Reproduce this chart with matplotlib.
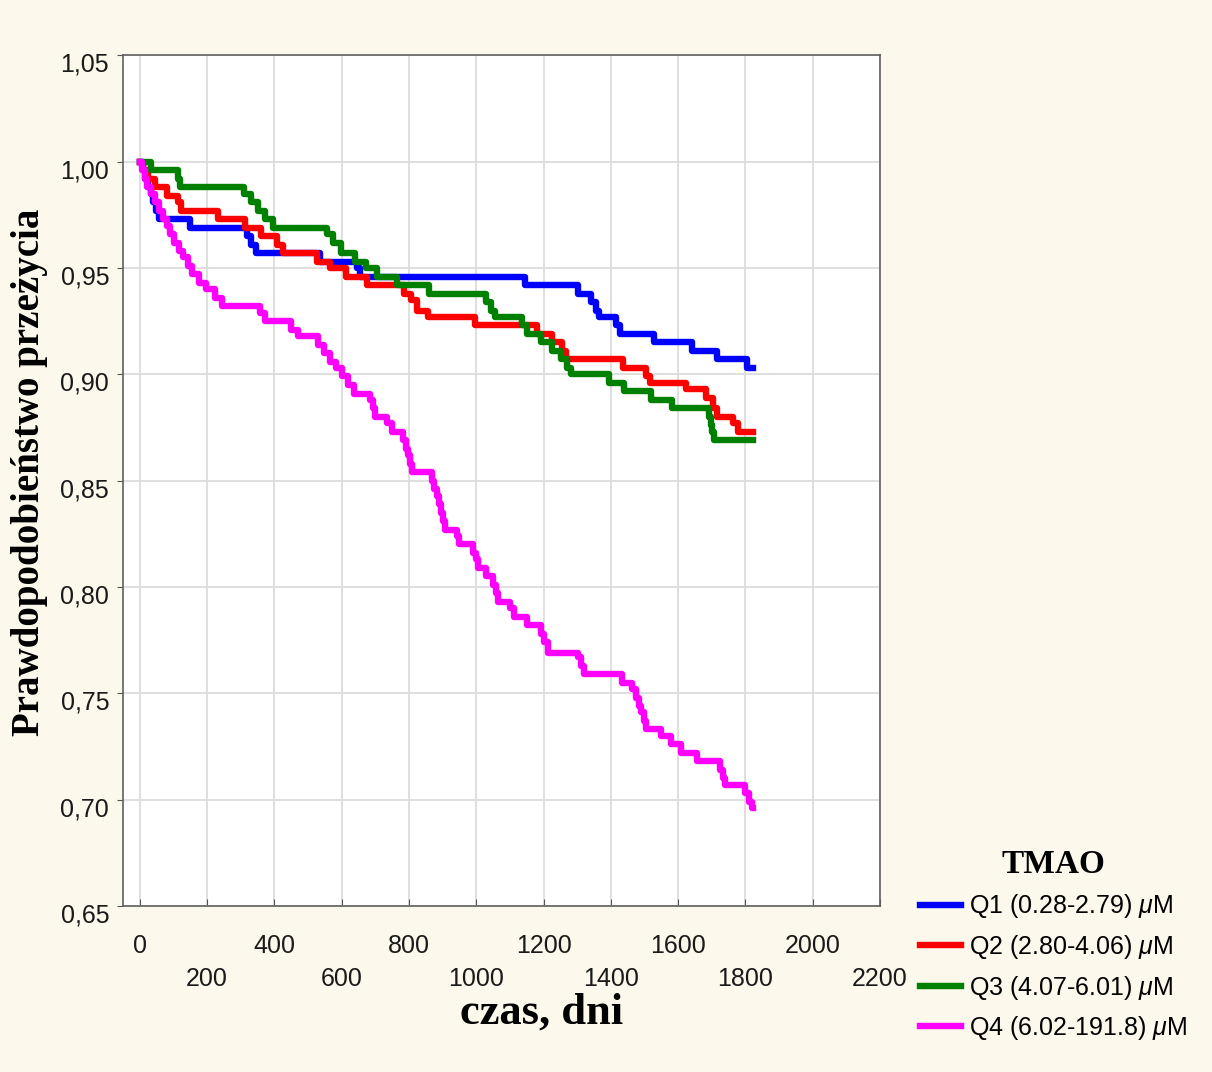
import numpy as np
import matplotlib.pyplot as plt
import matplotlib.transforms as mtransforms
from matplotlib.ticker import FuncFormatter

plt.rcParams['mathtext.fontset'] = 'custom'
plt.rcParams['mathtext.it'] = 'Liberation Sans:italic'
plt.rcParams['mathtext.rm'] = 'Liberation Sans'

# Kaplan-Meier steps (day, survival after event)
q1_days = [0, 8, 16, 24, 32, 40, 48, 56, 148, 318, 330, 344, 536, 646, 655,
           1146, 1302, 1340, 1355, 1366, 1414, 1428, 1528, 1641, 1715, 1805, 1822]
q1_surv = [1.0, 0.996, 0.992, 0.988, 0.985, 0.981, 0.977, 0.973, 0.969, 0.965, 0.961, 0.957, 0.953, 0.950, 0.946,
           0.942, 0.938, 0.934, 0.930, 0.927, 0.923, 0.919, 0.915, 0.911, 0.907, 0.903, 0.903]

q2_days = [0, 10, 25, 45, 80, 112, 122, 232, 312, 360, 408, 425, 528, 565, 613, 676, 785, 806, 825, 855,
           995, 1180, 1225, 1255, 1266, 1435, 1505, 1515, 1624, 1683, 1705, 1715, 1762, 1777, 1822]
q2_surv = [1.0, 0.996, 0.992, 0.988, 0.984, 0.981, 0.977, 0.973, 0.969, 0.965, 0.961, 0.957, 0.953, 0.950, 0.946,
           0.942, 0.938, 0.935, 0.930, 0.927, 0.923, 0.919, 0.915, 0.911, 0.907, 0.903, 0.899, 0.896, 0.893,
           0.889, 0.884, 0.880, 0.877, 0.873, 0.873]

q3_days = [0, 32, 112, 118, 310, 330, 350, 372, 395, 555, 575, 598, 640, 672, 705, 765, 860, 1030, 1045,
           1057, 1136, 1150, 1191, 1225, 1251, 1270, 1281, 1394, 1438, 1518, 1581, 1693, 1698, 1702, 1706, 1822]
q3_surv = [1.0, 0.996, 0.992, 0.988, 0.985, 0.981, 0.977, 0.973, 0.969, 0.966, 0.962, 0.957, 0.953, 0.950,
           0.946, 0.942, 0.938, 0.934, 0.930, 0.927, 0.923, 0.919, 0.915, 0.911, 0.907, 0.903, 0.900, 0.896,
           0.892, 0.888, 0.884, 0.880, 0.876, 0.873, 0.869, 0.869]

q4_days = [0, 6, 14, 22, 32, 44, 56, 68, 80, 90, 102, 116, 128, 142, 155, 175, 198, 222, 244, 356, 372, 448,
           470, 530, 548, 565, 584, 600, 618, 636, 684, 692, 700, 736, 750, 782, 790, 796, 802, 808, 868, 875,
           882, 888, 895, 900, 906, 942, 948, 990, 998, 1006, 1030, 1050, 1058, 1064, 1100, 1112, 1150, 1192,
           1200, 1214, 1302, 1310, 1320, 1432, 1462, 1475, 1484, 1490, 1497, 1504, 1550, 1578, 1608, 1656,
           1724, 1732, 1738, 1798, 1810, 1818, 1822]
q4_surv = [1.0, 0.996, 0.992, 0.988, 0.985, 0.981, 0.977, 0.973, 0.970, 0.966, 0.962, 0.958, 0.955, 0.951,
           0.947, 0.943, 0.940, 0.936, 0.932, 0.929, 0.925, 0.921, 0.918, 0.914, 0.910, 0.906, 0.903, 0.899,
           0.895, 0.891, 0.888, 0.884, 0.880, 0.877, 0.873, 0.869, 0.865, 0.862, 0.858, 0.854, 0.850, 0.846,
           0.843, 0.839, 0.835, 0.831, 0.827, 0.824, 0.820, 0.816, 0.813, 0.809, 0.805, 0.801, 0.797, 0.793,
           0.790, 0.786, 0.782, 0.778, 0.774, 0.769, 0.767, 0.763, 0.759, 0.755, 0.752, 0.748, 0.744, 0.741,
           0.737, 0.733, 0.730, 0.726, 0.722, 0.718, 0.714, 0.710, 0.707, 0.703, 0.699, 0.696, 0.696]

labels = ['Q1 (0.28-2.79) $\\mu$M', 'Q2 (2.80-4.06) $\\mu$M',
          'Q3 (4.07-6.01) $\\mu$M', 'Q4 (6.02-191.8) $\\mu$M']
colors = ['#0000ff', '#ff0000', '#008000', '#ff00ff']

x_ticks = list(range(0, 2201, 200))
y_ticks = [0.65, 0.70, 0.75, 0.80, 0.85, 0.90, 0.95, 1.00, 1.05]

fig = plt.figure(figsize=(12.12, 10.72), dpi=100, facecolor='#fcf8ec')
ax = fig.add_axes([0.1015, 0.1549, 0.6246, 0.7934])
ax.set_facecolor('white')

series = [(q1_days, q1_surv), (q2_days, q2_surv), (q3_days, q3_surv), (q4_days, q4_surv)]
handles = []
for (d, s), c, lab in zip(series, colors, labels):
    h, = ax.step(d, s, where='post', color=c, lw=4.6, label=lab)
    handles.append(h)

ax.set_xlim(-50, 2200)
ax.set_ylim(0.65, 1.05)
ax.set_xticks(x_ticks)
ax.set_xticklabels([str(t) if (t // 200) % 2 == 0 else '\n' + str(t) for t in x_ticks],
                   fontsize=18, family='Liberation Sans', color='#1a1a1a', linespacing=1.5)
ax.set_yticks(y_ticks)
ax.yaxis.set_major_formatter(FuncFormatter(lambda v, p: f'{v:.2f}'.replace('.', ',')))
for lab in ax.get_yticklabels():
    lab.set_fontsize(18)
    lab.set_family('Liberation Sans')
    lab.set_color('#1a1a1a')

ax.tick_params(axis='x', direction='in', length=5, pad=20, color='#555555')
ax.tick_params(axis='y', direction='out', length=4, pad=6, color='#555555')
offset = mtransforms.ScaledTranslation(0, -0.07, fig.dpi_scale_trans)
for lab in ax.get_yticklabels():
    lab.set_transform(lab.get_transform() + offset)

ax.grid(True, color='#dcdcdc', lw=1.3)
ax.set_axisbelow(True)
for sp in ax.spines.values():
    sp.set_color('#606060')
    sp.set_linewidth(1.2)

fig.text(542 / 1212, 1 - 1013 / 1072, 'czas, dni', fontsize=32, fontweight='bold',
         family='Liberation Serif', ha='center', va='center')
fig.text(30 / 1212, 1 - 472 / 1072, 'Prawdopodobieństwo przeżycia', fontsize=28, fontweight='bold',
         family='Liberation Serif', ha='center', va='center', rotation=90)

leg = fig.legend(handles=handles, loc='upper left', bbox_to_anchor=(920 / 1212, 1 - 849 / 1072),
                 frameon=False, borderpad=0, borderaxespad=0, handlelength=1.65, handletextpad=0.3,
                 labelspacing=0.5, title='TMAO',
                 prop={'family': 'Liberation Sans', 'size': 18},
                 title_fontproperties={'family': 'Liberation Serif', 'weight': 'bold', 'size': 24})

fig.savefig('out.png', dpi=100, facecolor=fig.get_facecolor())
